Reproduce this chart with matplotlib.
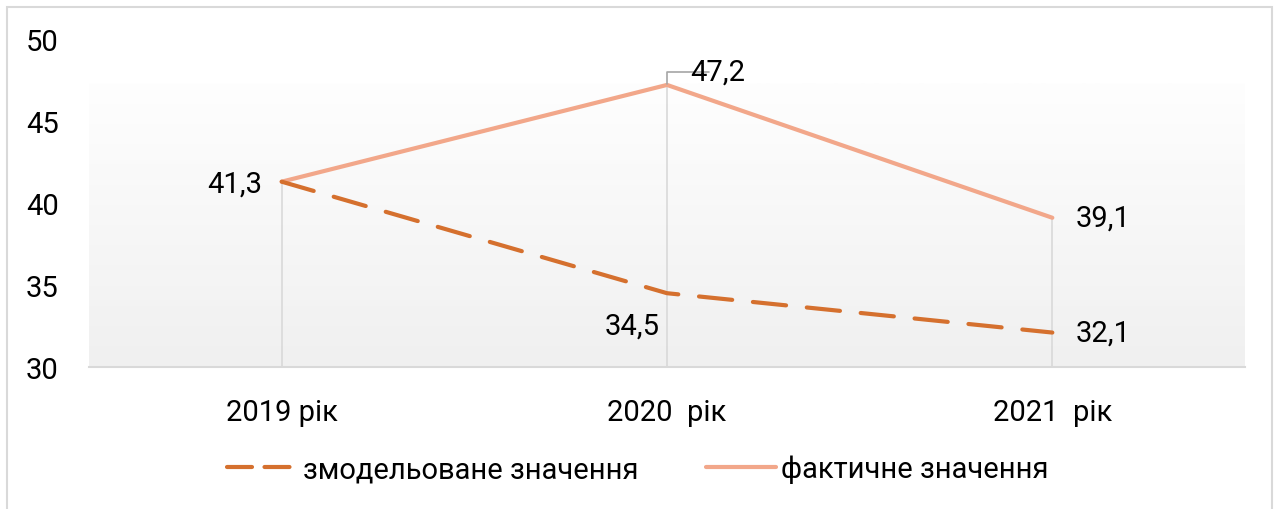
import numpy as np
import matplotlib.pyplot as plt
from matplotlib.patches import Rectangle
from matplotlib.lines import Line2D
from matplotlib.colors import LinearSegmentedColormap

plt.rcParams['font.family'] = ['Roboto', 'DejaVu Sans']

categories = ["2019 рік", "2020  рік", "2021  рік"]
modelled = [41.3, 34.5, 32.1]
actual = [41.3, 47.2, 39.1]
modelled_labels = ["41,3", "34,5", "32,1"]
actual_labels = ["41,3", "47,2", "39,1"]
yticks = [30, 35, 40, 45, 50]

c_model = "#D5702E"
c_fact = "#F2A78A"

fig = plt.figure(figsize=(12.76, 5.10), dpi=100)
ax = fig.add_axes([89 / 1276, 1 - 368 / 510, 1156 / 1276, 328 / 510])

# outer chart border
fig.patches.append(Rectangle((7 / 1276, -0.05), 1265 / 1276, 1.05 - 8 / 510,
                             transform=fig.transFigure, fill=False,
                             edgecolor="#d9d9d9", linewidth=1.5))

x = np.arange(len(categories))
ax.set_xlim(-0.5, 2.5)
ax.set_ylim(30, 50)

# gradient background of plot area
grad = np.linspace(0, 1, 256).reshape(-1, 1)
cmap = LinearSegmentedColormap.from_list("g", ["#fefefe", "#f0f0f0"])
ax.imshow(grad, extent=(-0.5, 2.5, 30, 47.3), aspect="auto", origin="upper",
          cmap=cmap, zorder=0)

# drop lines
for xi, a, m in zip(x, actual, modelled):
    ax.plot([xi, xi], [30, max(a, m)], color="#d9d9d9", lw=1.2, zorder=1)

ax.plot(x, actual, color=c_fact, lw=3, solid_capstyle="round", zorder=3)
ax.plot(x, modelled, color=c_model, lw=3, dashes=(8, 5), dash_capstyle="round", zorder=3)

fs = 21
ax.text(-0.05, 41.2, actual_labels[0], ha="right", va="center", fontsize=fs)
ax.annotate(actual_labels[1], xy=(1, 47.2), xytext=(1.06, 48.0), ha="left", va="center",
            fontsize=fs,
            arrowprops=dict(arrowstyle="-", color="#a6a6a6", lw=1.2,
                            connectionstyle="angle,angleA=0,angleB=90,rad=0",
                            patchA=None, shrinkA=6, shrinkB=1))
ax.text(2.06, 39.1, actual_labels[2], ha="left", va="center", fontsize=fs)
ax.text(0.98, 32.5, modelled_labels[1], ha="right", va="center", fontsize=fs)
ax.text(2.06, 32.1, modelled_labels[2], ha="left", va="center", fontsize=fs)

ax.set_xticks(x)
ax.set_xticklabels(categories, fontsize=fs)
ax.set_yticks(yticks)
ax.set_yticklabels([str(v) for v in yticks], fontsize=fs)
ax.tick_params(axis="both", length=0)
ax.tick_params(axis="x", pad=22)
ax.tick_params(axis="y", pad=22)
for s in ["top", "right", "left"]:
    ax.spines[s].set_visible(False)
ax.spines["bottom"].set_color("#d9d9d9")
ax.spines["bottom"].set_linewidth(1.5)

handles = [Line2D([], [], color=c_model, lw=3, dashes=(6, 3), dash_capstyle="round"),
           Line2D([], [], color=c_fact, lw=3, solid_capstyle="round")]
fig.legend(handles, ["змодельоване значення", "фактичне значення"],
           loc="center", bbox_to_anchor=(0.5, 1 - 470 / 510), ncol=2, frameon=False,
           fontsize=fs, handlelength=2.4, handletextpad=0.2, columnspacing=2.3)

fig.savefig("out.png", dpi=100)
